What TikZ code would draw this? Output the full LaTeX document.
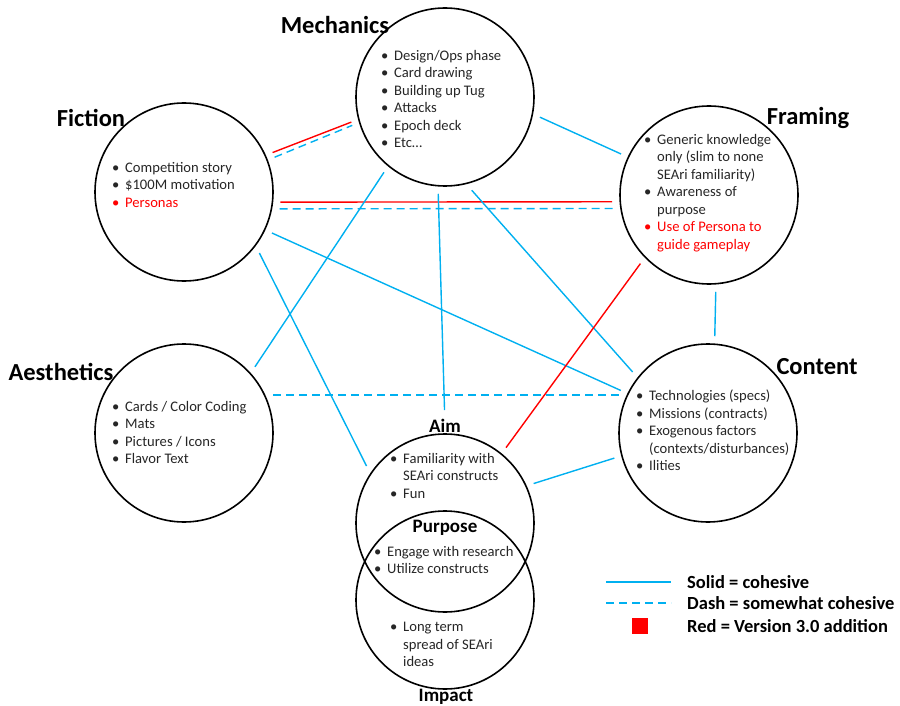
\documentclass[tikz,border=0pt]{standalone}
\usepackage{fontspec}
\setmainfont{Carlito}
\usetikzlibrary{positioning, calc}
\definecolor{cohblue}{RGB}{0,176,240}
\definecolor{newred}{RGB}{255,0,0}
\newcommand{\bl}{\makebox[13pt][l]{\textbullet}}
\newcommand{\ind}{\hspace*{13pt}}
\tikzset{
    bignode/.style={circle, draw, line width=1.6pt, minimum size=178pt, inner sep=0pt, outer sep=8pt},
    headnode/.style={font=\fontsize{24.5}{28}\selectfont\bfseries, inner sep=0pt},
    subhead/.style={font=\fontsize{19}{22}\selectfont\bfseries, inner sep=0pt},
    listnode/.style={anchor=north west, align=left, inner sep=0pt, text=black!85, font=\fontsize{14.6}{17.5}\selectfont},
    solidlink/.style={cohblue, line width=1.4pt},
    dashlink/.style={cohblue, line width=1.4pt, dash pattern=on 8pt off 5pt},
    redlink/.style={newred, line width=1.4pt},
    legnode/.style={anchor=west, inner sep=0pt, font=\fontsize{18.5}{21}\selectfont\bfseries}
}

\begin{document}
\begin{tikzpicture}[x=1pt, y=-1pt]
\useasboundingbox (0,0) rectangle (900,706);
\node[bignode] (mech) at (445,97) {};
\node[bignode] (fic) at (184,192) {};
\node[bignode] (fra) at (709,195) {};
\node[bignode] (aes) at (184,433) {};
\node[bignode] (con) at (708,433) {};
\node[bignode] (aim) at (445,523) {};
\node[bignode] (imp) at (445,600) {};

\node[headnode] (mechlbl) at (335,25) {Mechanics};
\node[headnode] (ficlbl) at (91,118) {Fiction};
\node[headnode] (fralbl) at (808,118) {Framing};
\node[headnode] (aeslbl) at (61,372) {Aesthetics};
\node[headnode] (conlbl) at (817,367) {Content};
\node[subhead] (aimlbl) at (445,426) {Aim};
\node[subhead] (purplbl) at (445,528) {Purpose};
\node[subhead] (implbl) at (446,697) {Impact};

\node[listnode] (mechlist) at (381,50) {\bl Design/Ops phase\\\bl Card drawing\\\bl Building up Tug\\\bl Attacks\\\bl Epoch deck\\\bl Etc\dots};
\node[listnode] (ficlist) at (112,162) {\bl Competition story\\\bl \$100M motivation\\\textcolor{newred}{\bl Personas}};
\node[listnode] (fralist) at (644,134) {\bl Generic knowledge\\\ind only (slim to none\\\ind SEAri familiarity)\\\bl Awareness of\\\ind purpose\\\textcolor{newred}{\bl Use of Persona to}\\\textcolor{newred}{\ind guide gameplay}};
\node[listnode] (aeslist) at (112,401) {\bl Cards / Color Coding\\\bl Mats\\\bl Pictures / Icons\\\bl Flavor Text};
\node[listnode] (conlist) at (636,390) {\bl Technologies (specs)\\\bl Missions (contracts)\\\bl Exogenous factors\\\ind (contexts/disturbances)\\\bl Ilities};
\node[listnode] (aimlist) at (390,453) {\bl Familiarity with\\\ind SEAri constructs\\\bl Fun};
\node[listnode] (purplist) at (374,546) {\bl Engage with research\\\bl Utilize constructs};
\node[listnode] (implist) at (390,622) {\bl Long term\\\ind spread of SEAri\\\ind ideas};

\draw[redlink] (fic.24) -- (mech.195);
\draw[dashlink] (fic.21) -- (mech.197);
\draw[redlink] (fic.354) -- (fra.184);
\draw[dashlink] (fic.350) -- (fra.188);
\draw[solidlink] (mech.348) -- (fra.155);
\draw[solidlink] (mech.231) -- (aes.43);
\draw[solidlink, shorten >=9pt] (mech.266) -- (aimlbl);
\draw[solidlink] (mech.286) -- (con.141);
\draw[solidlink] (fic.335) -- (con.154);
\draw[solidlink] (fic.321) -- (aim.144);
\draw[solidlink] (fra.274) -- (con.86);
\draw[redlink] (fra.225) -- (aim.51);
\draw[dashlink] (aes.23) -- (con.157);
\draw[solidlink] (aim.24) -- (con.195);

\coordinate (sola) at (606,582);
\coordinate (solb) at (671,582);
\coordinate (dasha) at (606,603);
\coordinate (dashb) at (671,603);
\draw[solidlink] (sola) -- (solb);
\draw[dashlink] (dasha) -- (dashb);
\node[fill=newred, minimum size=16pt, inner sep=0pt] (redsq) at (640,626) {};
\node[legnode, right=16pt of solb] (legsolid) {Solid = cohesive};
\node[legnode, right=16pt of dashb] (legdash) {Dash = somewhat cohesive};
\node[legnode] (legred) at (legdash.west |- redsq) {Red = Version 3.0 addition};
\end{tikzpicture}
\end{document}
